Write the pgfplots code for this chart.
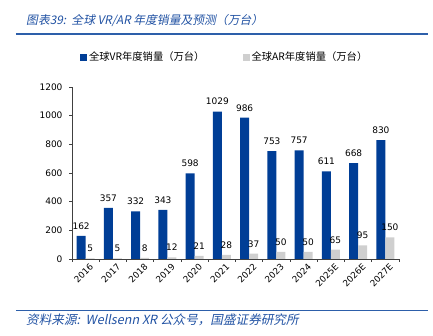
\documentclass[border=0pt]{standalone}
\usepackage{fontspec}
\setmainfont{DejaVu Sans}
\newfontfamily\cjk{Noto Sans CJK SC}
\newfontfamily\cjkit[FakeSlant=0.2]{Noto Sans CJK SC}
\usepackage{pgfplots}
\pgfplotsset{compat=1.18}
\definecolor{vrblue}{HTML}{003E96}
\definecolor{argrey}{HTML}{CFCFCF}
\definecolor{ttlblue}{HTML}{2152A3}
\definecolor{lineblue}{HTML}{2D5FAA}
\begin{document}
\begin{tikzpicture}
\useasboundingbox (-72pt,-77pt) rectangle (361pt,259pt);
\node[anchor=west, inner sep=0pt, text=ttlblue, font=\cjkit\fontsize{11.8}{13}\selectfont] at (-46pt,238.5pt) {图表39:\ \ 全球 VR/AR 年度销量及预测（万台）};
\draw[lineblue, line width=1.3pt] (-56pt,225pt) -- (356pt,225pt);
\draw[lineblue, line width=1.3pt] (-56pt,-51.7pt) -- (356pt,-51.7pt);
\node[anchor=west, inner sep=0pt, text=ttlblue, font=\cjkit\fontsize{12.6}{14}\selectfont] at (-46pt,-61pt) {资料来源:\ \ Wellsenn XR 公众号，国盛证券研究所};
\begin{axis}[
  at={(0pt,0pt)}, anchor=south west,
  scale only axis, width=327pt, height=172pt,
  ybar=0pt, bar width=9pt,
  xmin=-0.5, xmax=11.5, ymin=0, ymax=1200,
  axis x line*=bottom, axis y line*=left,
  axis line style={black!75, line width=0.6pt},
  tick style={black!75, line width=0.6pt},
  tick align=outside, major tick length=3pt,
  xtick={-0.5,0.5,...,11.5},
  x tick label as interval,
  xticklabels={2016,2017,2018,2019,2020,2021,2022,2023,2024,2025E,2026E,2027E},
  x tick label style={rotate=45, anchor=north east, inner sep=1pt, font=\fontsize{8.8}{10}\selectfont, yshift=-2pt, xshift=3pt},
  ytick={0,200,...,1200},
  y tick label style={font=\fontsize{9}{10}\selectfont, xshift=-3pt},
  /pgf/number format/assume math mode=true,
  /pgf/number format/1000 sep={},
  nodes near coords,
  every node near coord/.append style={font=\fontsize{9}{10}\selectfont, text=black, yshift=3pt},
  legend columns=2,
  legend style={draw=none, fill=none, at={(0.467,1.174)}, anchor=center,
    font=\cjk\fontsize{10.3}{12}\selectfont, inner sep=0pt,
    /tikz/every even column/.append style={column sep=36pt},
    cells={anchor=west, inner xsep=3pt}},
]
\addplot[fill=vrblue, draw=none, legend image code/.code={\fill[vrblue] (0pt,-3.5pt) rectangle (7pt,3.5pt);}] coordinates {
(0,162) (1,357) (2,332) (3,343) (4,598) (5,1029) (6,986) (7,753) (8,757) (9,611) (10,668) (11,830)};
\addlegendentry{全球VR年度销量（万台）}
\addplot[fill=argrey, draw=none, legend image code/.code={\fill[argrey] (0pt,-3.5pt) rectangle (7pt,3.5pt);}] coordinates {
(0,5) (1,5) (2,8) (3,12) (4,21) (5,28) (6,37) (7,50) (8,50) (9,65) (10,95) (11,150)};
\addlegendentry{全球AR年度销量（万台）}
\end{axis}
\end{tikzpicture}
\end{document}
